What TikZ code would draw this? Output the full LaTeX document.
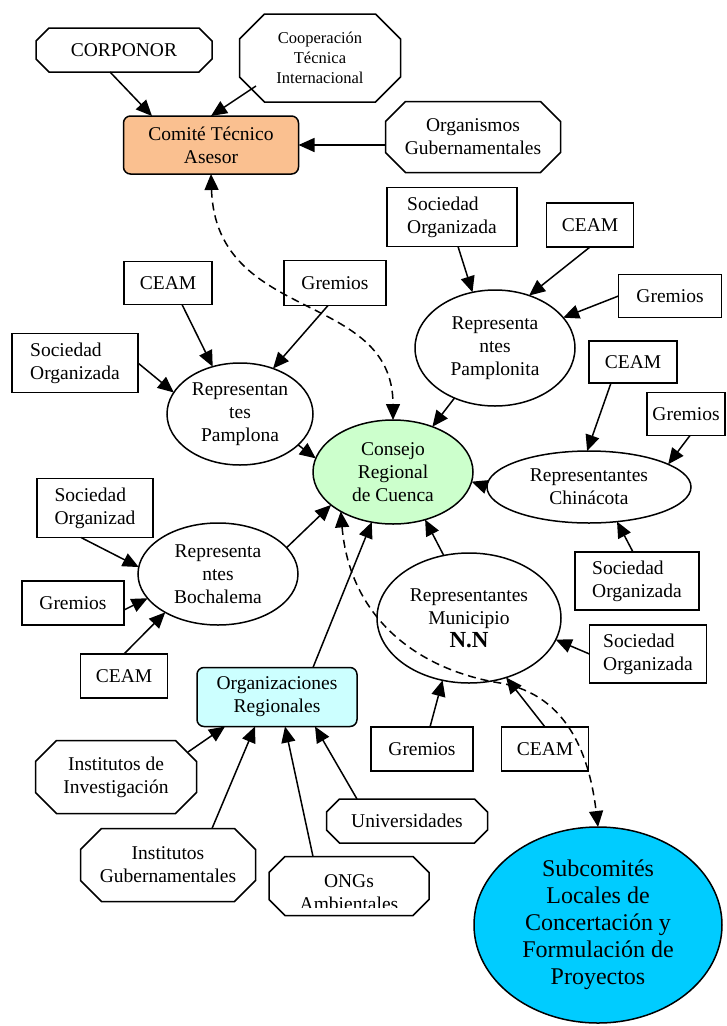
\documentclass[tikz,border=0pt]{standalone}
\usepackage{fontspec}
\setmainfont{Liberation Serif}
\usetikzlibrary{arrows.meta,calc,shapes.geometric}
\definecolor{comitefill}{RGB}{250,192,144}
\definecolor{consejofill}{RGB}{204,255,204}
\definecolor{orgfill}{RGB}{204,255,255}
\definecolor{subcfill}{RGB}{0,204,255}
\newcommand{\octframe}[2]{%
  \draw[line width=1.5pt] ($(#1.north west)+(#2,0)$) -- ($(#1.north east)+(-#2,0)$)
    -- ($(#1.north east)+(0,#2)$) -- ($(#1.south east)+(0,-#2)$)
    -- ($(#1.south east)+(-#2,0)$) -- ($(#1.south west)+(#2,0)$)
    -- ($(#1.south west)+(0,-#2)$) -- ($(#1.north west)+(0,#2)$) -- cycle;}
\begin{document}
\begin{tikzpicture}[x=1pt,y=-1pt,
  every node/.style={font=\fontsize{19.5}{23}\selectfont, align=center, inner sep=0pt, outer sep=0pt},
  sqbox/.style={draw, line width=1.5pt, rectangle},
  octbox/.style={rectangle},
  ellbox/.style={draw, line width=1.5pt, ellipse},
  rndbox/.style={draw, line width=1.5pt, rectangle, rounded corners=7pt},
  smalltext/.style={font=\fontsize{16.5}{20}\selectfont},
  link/.style={line width=1.5pt, -{Triangle[length=16pt,width=14pt]}},
  dlink/.style={line width=1.5pt, dash pattern=on 8pt off 5pt, {Triangle[length=16pt,width=14pt]}-{Triangle[length=16pt,width=14pt]}}
]
\useasboundingbox[fill=white] (0,0) rectangle (726,1026);

% --- top: advisory committee ---
\node[octbox, minimum width=176pt, minimum height=44pt] (corp) at (124,50) {CORPONOR};
\node[octbox, smalltext, minimum width=161pt, minimum height=88pt] (coop) at (320,58) {Cooperación\\Técnica\\Internacional};
\node[rndbox, fill=comitefill, minimum width=175pt, minimum height=58pt] (comite) at (211,145) {Comité Técnico\\Asesor};
\node[octbox, minimum width=175pt, minimum height=71pt] (orgs) at (473,137) {Organismos\\Gubernamentales};
\octframe{corp}{13}
\octframe{coop}{25}
\octframe{orgs}{20}

% --- Pamplonita ---
\node[sqbox, align=left, minimum width=130pt, minimum height=59pt] (socN) at (452,217) {Sociedad\\Organizada};
\node[sqbox, minimum width=87pt, minimum height=44pt] (ceamN) at (590,225) {CEAM};
\node[sqbox, minimum width=103pt, minimum height=43pt] (gremN) at (670,296) {Gremios};
\node[ellbox, minimum width=160pt, minimum height=116pt] (pampt) at (495,348) {Representa\\ntes\\Pamplonita};

% --- Pamplona ---
\node[sqbox, minimum width=88pt, minimum height=43pt] (ceamP) at (168,283) {CEAM};
\node[sqbox, minimum width=102pt, minimum height=45pt] (gremP) at (335,283) {Gremios};
\node[sqbox, align=left, minimum width=126pt, minimum height=59pt] (socP) at (75,363) {Sociedad\\Organizada};
\node[ellbox, minimum width=146pt, minimum height=102pt] (pamp) at (240,414) {Representan\\tes\\Pamplona};

% --- council ---
\node[ellbox, fill=consejofill, minimum width=160pt, minimum height=104pt] (consejo) at (393,472) {Consejo\\Regional\\de Cuenca};

% --- Chinacota ---
\node[ellbox, minimum width=204pt, minimum height=72pt] (chin) at (589,487) {Representantes\\Chinácota};
\node[sqbox, minimum width=88pt, minimum height=42pt] (ceamC) at (633,362) {CEAM};
\node[sqbox, minimum width=78pt, minimum height=43pt] (gremC) at (686,414) {Gremios};
\node[sqbox, align=left, minimum width=124pt, minimum height=58pt] (socC) at (637,581) {Sociedad\\Organizada};

% --- Municipio N.N ---
\node[ellbox, minimum width=184pt, minimum height=130pt] (muni) at (469,618) {Representantes\\Municipio\\{\fontsize{23}{27}\selectfont\bfseries N.N}};
\node[sqbox, align=left, minimum width=117pt, minimum height=58pt] (socM) at (648,654) {Sociedad\\Organizada};
\node[sqbox, minimum width=102pt, minimum height=44pt] (gremM) at (422,749) {Gremios};
\node[sqbox, minimum width=87pt, minimum height=44pt] (ceamM) at (545,749) {CEAM};

% --- Bochalema ---
\node[ellbox, minimum width=160pt, minimum height=102pt] (boch) at (218,574) {Representa\\ntes\\Bochalema};
\node[sqbox, align=left, minimum width=116pt, minimum height=59pt] (socB) at (95,508) {Sociedad\\Organizad};
\node[sqbox, minimum width=102pt, minimum height=44pt] (gremB) at (73,603) {Gremios};
\node[sqbox, minimum width=87pt, minimum height=44pt] (ceamB) at (124,676) {CEAM};

% --- regional organisations ---
\node[rndbox, fill=orgfill, minimum width=160pt, minimum height=59pt] (orgr) at (277,697) {Organizaciones\\Regionales};
\node[octbox, minimum width=161pt, minimum height=73pt] (inv) at (116,777) {Institutos de\\Investigación};
\node[octbox, minimum width=175pt, minimum height=73pt] (gub) at (168,865) {Institutos\\Gubernamentales};
\node[octbox, minimum width=160pt, minimum height=59pt] (ongs) at (349,886) {};
\begin{scope}
  \clip (269,850) rectangle (429,907);
  \node (ongstext) at (349,893) {ONGs\\Ambientales};
\end{scope}
\node[octbox, minimum width=161pt, minimum height=44pt] (univ) at (407,821) {Universidades};
\octframe{inv}{21}
\octframe{gub}{21}
\octframe{ongs}{16}
\octframe{univ}{13}

% --- subcommittees ---
\node[ellbox, fill=subcfill, font=\fontsize{24}{27}\selectfont, minimum width=248pt, minimum height=196pt] (subc) at (598,925) {Subcomités\\Locales de\\Concertación y\\Formulación de\\Proyectos};

% ===== connectors =====
\draw[link] ($(corp.south)+(-14,0)$) -- ($(comite.north)+(-59,0)$);
\draw[link] ($(coop.center)+(-64,28)$) -- (comite.north);
\draw[link] (comite.east -| orgs.west) -- (comite.east);
\draw[dlink] (comite.south) .. controls ($(comite.south)+(5,150)$) and ($(consejo.north)+(0,-130)$) .. (consejo.north);

\draw[link] ($(ceamP.south)+(14,0)$) -- (pamp.120);
\draw[link] ($(gremP.south)+(-7,0)$) -- (pamp.54);
\draw[link] (socP.east) -- (pamp.162);
\draw[link] (pamp.-28) -- (consejo.170);

\draw[link] ($(socN.south)+(6,0)$) -- (pampt.112);
\draw[link] (ceamN.south) -- (pampt.57);
\draw[link] (gremN.west) -- (pampt.24);
\draw[link] (pampt.231) -- (consejo.49);

\draw[link] (chin.west) -- (consejo.353);
\draw[link] ($(ceamC.south)+(-22,0)$) -- (chin.93);
\draw[link] ($(gremC.south)+(4,0)$) -- (chin.16);
\draw[link] ($(socC.north)+(-4,0)$) -- (chin.-51);

\draw[link] (muni.112) -- (consejo.-56);
\draw[link] (socM.west) -- (muni.-14);
\draw[link] ($(gremM.north)+(8,0)$) -- (muni.-113);
\draw[link] (ceamM.north) -- (muni.-58);

\draw[link] (boch.21) -- (consejo.208);
\draw[link] ($(socB.south)+(-14,0)$) -- (boch.175);
\draw[link] ($(gremB.east)+(0,7)$) -- (boch.199);
\draw[link] (ceamB.north) -- (boch.216);

\draw[link] ($(orgr.north)+(36,0)$) -- (consejo.247);
\draw[link] ($(inv.center)+(72,-25)$) -- ($(orgr.south)+(-52,0)$);
\draw[link] ($(gub.north)+(44,0)$) -- ($(orgr.south)+(-22,0)$);
\draw[link] ($(ongs.north)+(-36,0)$) -- ($(orgr.south)+(8,0)$);
\draw[link] ($(univ.north)+(-50,0)$) -- ($(orgr.south)+(38,0)$);

\coordinate (dmid) at (500,683);
\draw[dlink] (consejo.217) .. controls (350,620) and (420,670) .. (dmid)
  .. controls (570,695) and (590,760) .. (subc.north);
\end{tikzpicture}
\end{document}
